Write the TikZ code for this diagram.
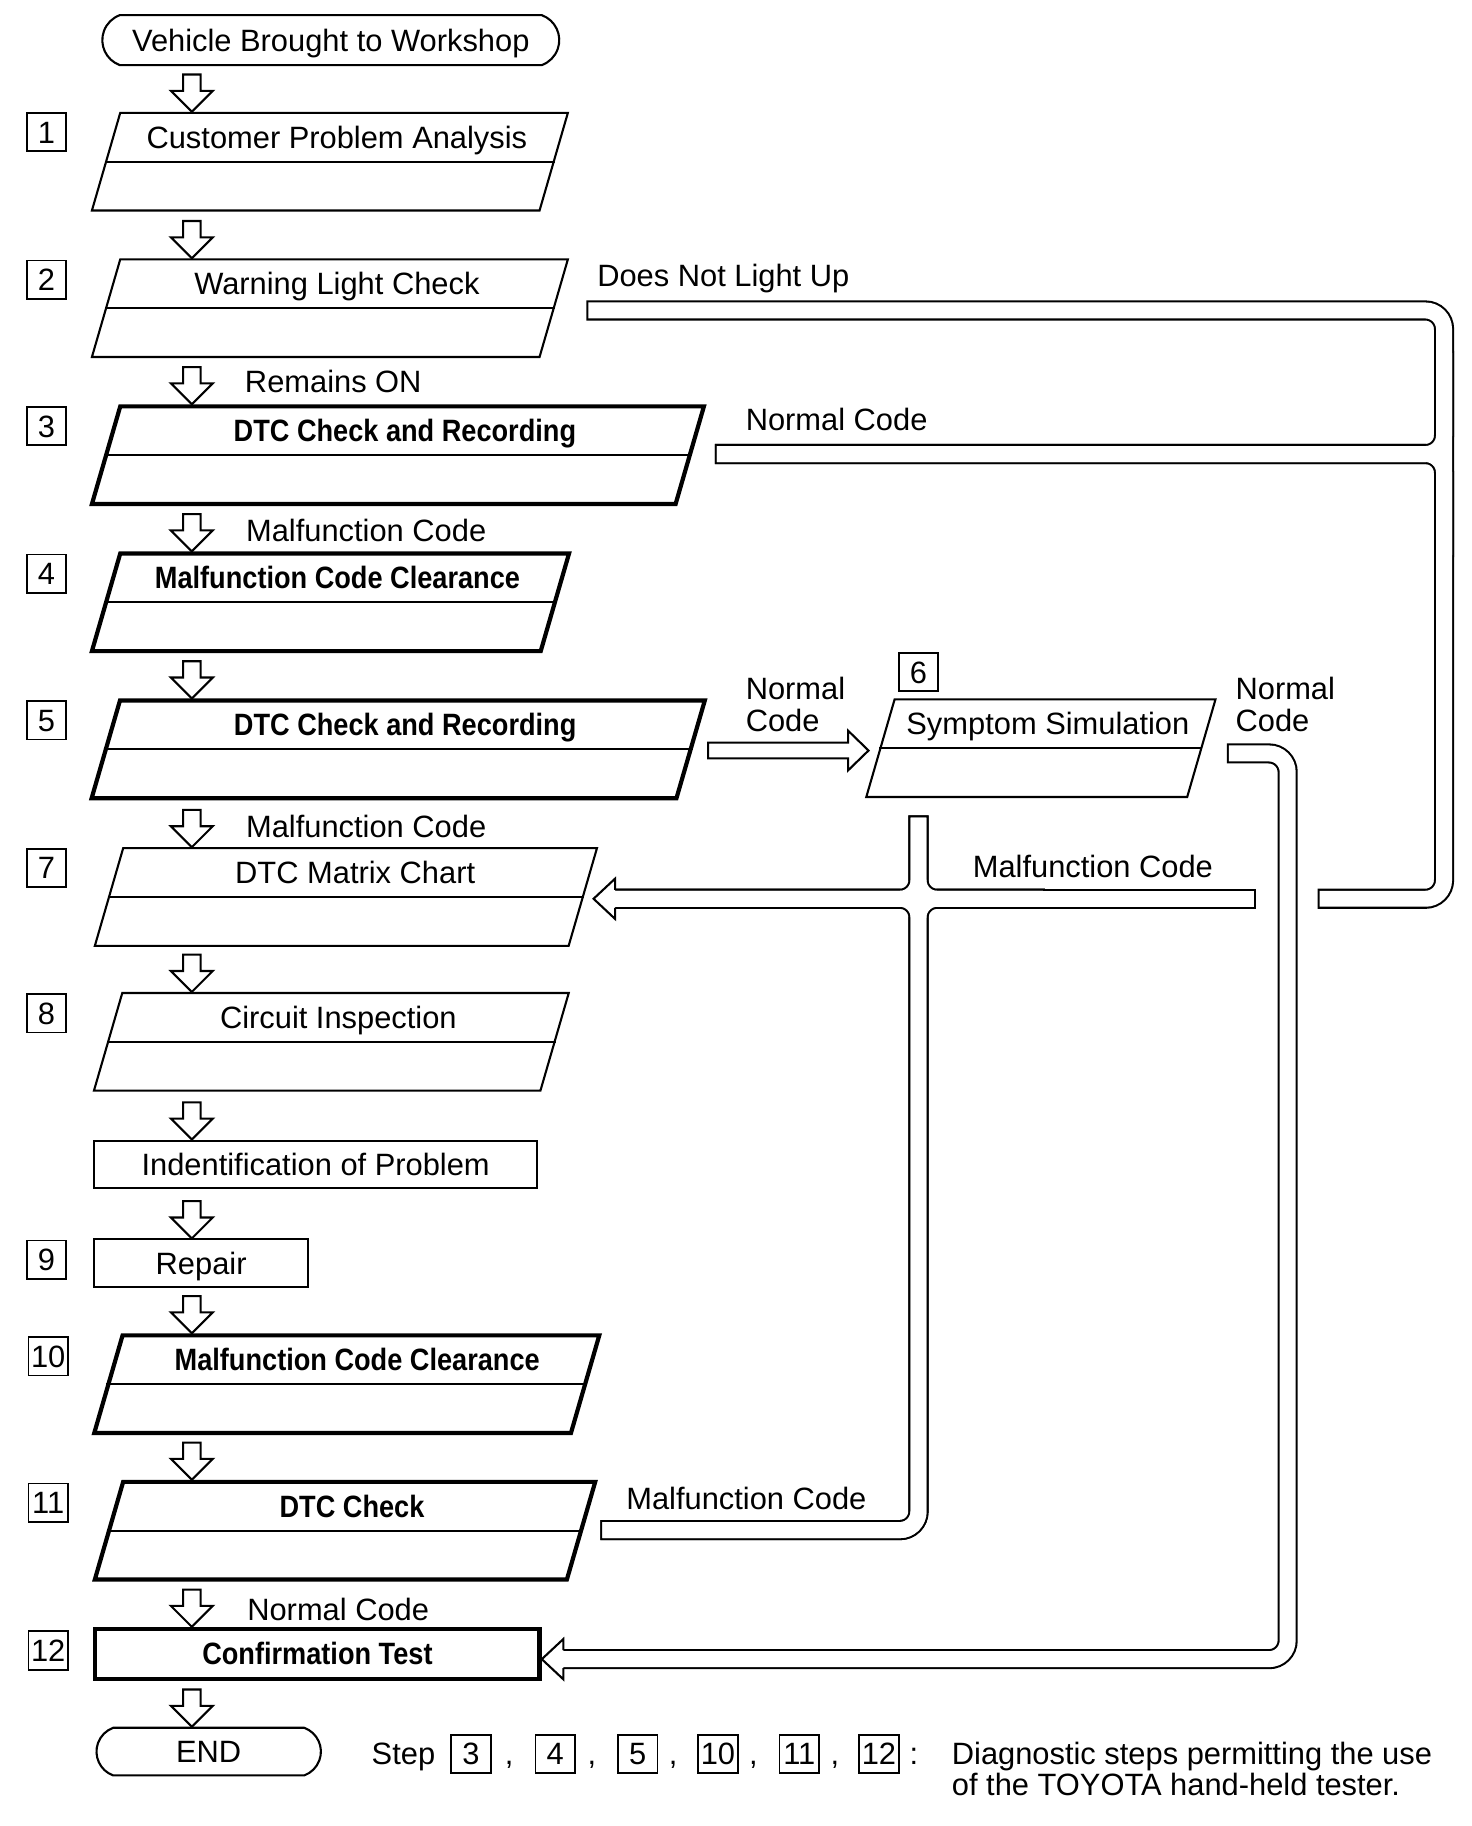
\documentclass[tikz,border=0pt]{standalone}
\usepackage{fontspec}
\setmainfont{Liberation Sans}
\newfontfamily\condfont{Liberation Sans}[FakeStretch=0.88]
\usetikzlibrary{shapes.misc,calc}

\newcommand{\stxt}{\fontsize{7.55}{8}\selectfont}
\newcommand{\btxt}{\condfont\bfseries\fontsize{7.55}{8}\selectfont}

\tikzset{every node/.style={font=\stxt, inner sep=0pt, text height=5.4pt, text depth=0pt}}

\begin{document}
\begin{tikzpicture}[x=0.1mm, y=-0.1mm,
			pgram/.style={draw, line width=0.18mm, xslant=0.29, minimum height=8.4mm},
			boldgram/.style={pgram, line width=0.36mm},
			plainbox/.style={draw, line width=0.18mm, minimum height=4.1mm},
			termbox/.style={draw, line width=0.18mm, rounded rectangle, rounded rectangle arc length=140, minimum height=4.3mm},
			numbox/.style={draw, line width=0.15mm, minimum width=3.4mm, minimum height=3.3mm},
			btext/.style={font=\btxt},
			lbl/.style={anchor=west},
			twoline/.style={anchor=north west, align=left, text height={}, text depth={}},
			divider/.style={line width=0.18mm},
			pipeout/.style={draw=black, line width=1.73mm, line cap=rect, rounded corners=1.6mm},
			pipein/.style={draw=white, line width=1.37mm, line cap=rect, rounded corners=1.6mm},
			hollow/.style={draw, line width=0.18mm, fill=white},
			dnarrow/.pic={\draw[hollow] (-7.5,-32) -- (7.5,-32) -- (7.5,-18) -- (18,-18) -- (0,0) -- (-18,-18) -- (-7.5,-18) -- cycle;},
			lhead/.pic={\draw[hollow] (0,-7.75) -- (0,-17.3) -- (-18.5,0) -- (0,17.3) -- (0,7.75);},
			]
			
			\fill[white] (0,0) rectangle (1266,1570.5);
			\useasboundingbox (0,0) rectangle (1266,1570.5);
			
			% Start, boxes of the main column
			\node[termbox, minimum width=39.3mm] (start) at (284.5,34.5) {Vehicle Brought to Workshop};
			
			\node[pgram, minimum width=38.5mm] (b1) at (283.75,139) {};
			\node (t1) at ($(b1.center)+(6,-21)$) {Customer Problem Analysis};
			\node[pgram, minimum width=38.5mm] (b2) at (283.75,265) {};
			\node (t2) at ($(b2.center)+(6,-21)$) {Warning Light Check};
			\node[boldgram, minimum width=50.2mm] (b3) at (342.25,391.5) {};
			\node[btext] (t3) at ($(b3.center)+(6,-21)$) {DTC Check and Recording};
			\node[boldgram, minimum width=38.6mm] (b4) at (284.25,518) {};
			\node[btext] (t4) at ($(b4.center)+(6,-21)$) {Malfunction Code Clearance};
			\node[boldgram, minimum width=50.3mm] (b5) at (342.5,644.5) {};
			\node[btext] (t5) at ($(b5.center)+(6,-21)$) {DTC Check and Recording};
			\node[pgram, minimum width=27.6mm] (b6) at (895.25,643.5) {};
			\node (t6) at ($(b6.center)+(6,-21)$) {Symptom Simulation};
			\node[pgram, minimum width=40.75mm] (b7) at (297.5,771.5) {};
			\node (t7) at ($(b7.center)+(8,-21)$) {DTC Matrix Chart};
			\node[pgram, minimum width=38.4mm] (b8) at (285,896) {};
			\node (t8) at ($(b8.center)+(6,-21)$) {Circuit Inspection};
			\node[plainbox, minimum width=38.1mm] (idp) at (271.5,1001.5) {Indentification of Problem};
			\node[plainbox, minimum width=18.4mm] (rep) at (173,1086.5) {Repair};
			\node[boldgram, minimum width=41mm] (b10) at (298.25,1190.5) {};
			\node[btext] (t10) at ($(b10.center)+(9,-21)$) {Malfunction Code Clearance};
			\node[boldgram, minimum width=40.6mm] (b11) at (296.75,1316.5) {};
			\node[btext] (t11) at ($(b11.center)+(6,-21)$) {DTC Check};
			\node[plainbox, line width=0.36mm, minimum width=38.2mm, minimum height=4.3mm, btext] (b12) at (273,1422.5) {Confirmation Test};
			\node[termbox, minimum width=19.3mm, minimum height=4.1mm] (fin) at (179.5,1506.5) {END};
			
			% Dividers of the parallelograms
			\foreach \b in {b1,b2,b3,b4,b5,b6,b7,b8,b10,b11} {
				\draw[divider] (\b.west) -- (\b.east);
			}
			
			% Step numbers
			\foreach \n/\x/\y in {1/40/113.5,2/40/240.5,3/40/366.5,4/40/493.5,5/40/619.5,7/40/746.5,8/40/871.5,9/40/1083.5,10/41.5/1166.5,11/41.5/1292.5,12/41.5/1419.5,6/790/578} {
				\node[numbox] (s\n) at (\x,\y) {\n};
			}
			
			% Down arrows, tip on the next box
			\coordinate (ax) at (165,0);
			\foreach \b in {b1,b2,b3,b4,b5,b7,b8,idp,rep,b10,b11,b12,fin} {
				\pic at (ax |- \b.north) {dnarrow};
			}
			
			% Ends and bends of the pipes
			\coordinate (dnl) at (513,267);
			\coordinate (nc3) at (623.5,390.5);
			\coordinate (rc) at (1242,0);
			\coordinate (lb) at (1141.8,773);
			\coordinate (mfr) at (1071.3,773);
			\coordinate (mh7) at (529,773);
			\coordinate (sm6) at (790,710);
			\coordinate (mf11) at (525,1316);
			\coordinate (ns6) at (1063.8,648);
			\coordinate (sc) at (1107.5,0);
			\coordinate (mh12) at (484.5,1427);
			\coordinate (nc5) at (609,645.5);
			
			\def\pipeA{(dnl) -- (dnl -| rc) -- (rc |- lb) -- (lb)}
			\def\pipeB{(nc3) -- (nc3 -| rc) -- ++(0,80)}
			\def\pipeC{(nc3) -- (nc3 -| rc) -- ++(0,-80)}
			\def\pipeD{(mfr) -- (mh7)}
			\def\pipeE{(sm6) -- (sm6 |- mh7) -- (mh7)}
			\def\pipeF{(sm6) -- (sm6 |- mh7) -- ++(100,0)}
			\def\pipeG{(mf11) -- (mf11 -| sm6) -- (sm6 |- mh7) -- (mh7)}
			\def\pipeH{(mf11) -- (mf11 -| sm6) -- (sm6 |- mh7) -- ++(100,0)}
			\def\pipeI{(ns6) -- (ns6 -| sc) -- (sc |- mh12) -- (mh12)}
			
			% Outlines first, then the insides, so the pipes merge
			\foreach \p in {\pipeA,\pipeB,\pipeC,\pipeD,\pipeE,\pipeF,\pipeG,\pipeH,\pipeI} {
				\draw[pipeout] \p;
			}
			\foreach \p in {\pipeA,\pipeB,\pipeC,\pipeD,\pipeE,\pipeF,\pipeG,\pipeH,\pipeI} {
				\draw[pipein] \p;
			}
			\pic at (mh7) {lhead};
			\pic at (mh12) {lhead};
			
			% Hollow arrow to the symptom simulation
			\draw[hollow] (nc5) ++(0,-6.75) -- ++(120.5,0) -- ++(0,-10.25) -- ++(17.5,17) -- ++(-17.5,17) -- ++(0,-10.25) -- ++(-120.5,0) -- cycle;
			
			% Branch labels
			\node[lbl] (l1) at (513,236.5) {Does Not Light Up};
			\node[lbl] (l2) at (210,328) {Remains ON};
			\node[lbl] (l3) at (640.7,360.5) {Normal Code};
			\node[lbl] (l4) at (211,456) {Malfunction Code};
			\node[twoline] (l5) at (640.7,581.4) {Normal\\Code};
			\node[twoline] (l6) at (1062,581.5) {Normal\\Code};
			\node[lbl] (l7) at (211,711) {Malfunction Code};
			\node[lbl] (l8) at (836,745.5) {Malfunction Code};
			\node[lbl] (l9) at (538,1288.5) {Malfunction Code};
			\node[lbl] (l10) at (212,1384) {Normal Code};
			
			% Legend
			\node[lbl] (stp) at (319,1508) {Step};
			\foreach \n/\x in {3/405,4/477.5,5/548.5,10/617.5,11/687.5,12/756} {
				\node[numbox] (lg\n) at (\x,1508.5) {\n};
			}
			\foreach \x in {438,509,579,648,718} {
				\node (cm\x) at (\x,1508) {,};
			}
			\node (col) at (786,1508) {:};
			\node[twoline, font={\fontsize{7.55}{7.4}\selectfont}] (note) at (818,1498) {Diagnostic steps permitting the use\\of the TOYOTA hand-held tester.};
			
		\end{tikzpicture}
\end{document}
